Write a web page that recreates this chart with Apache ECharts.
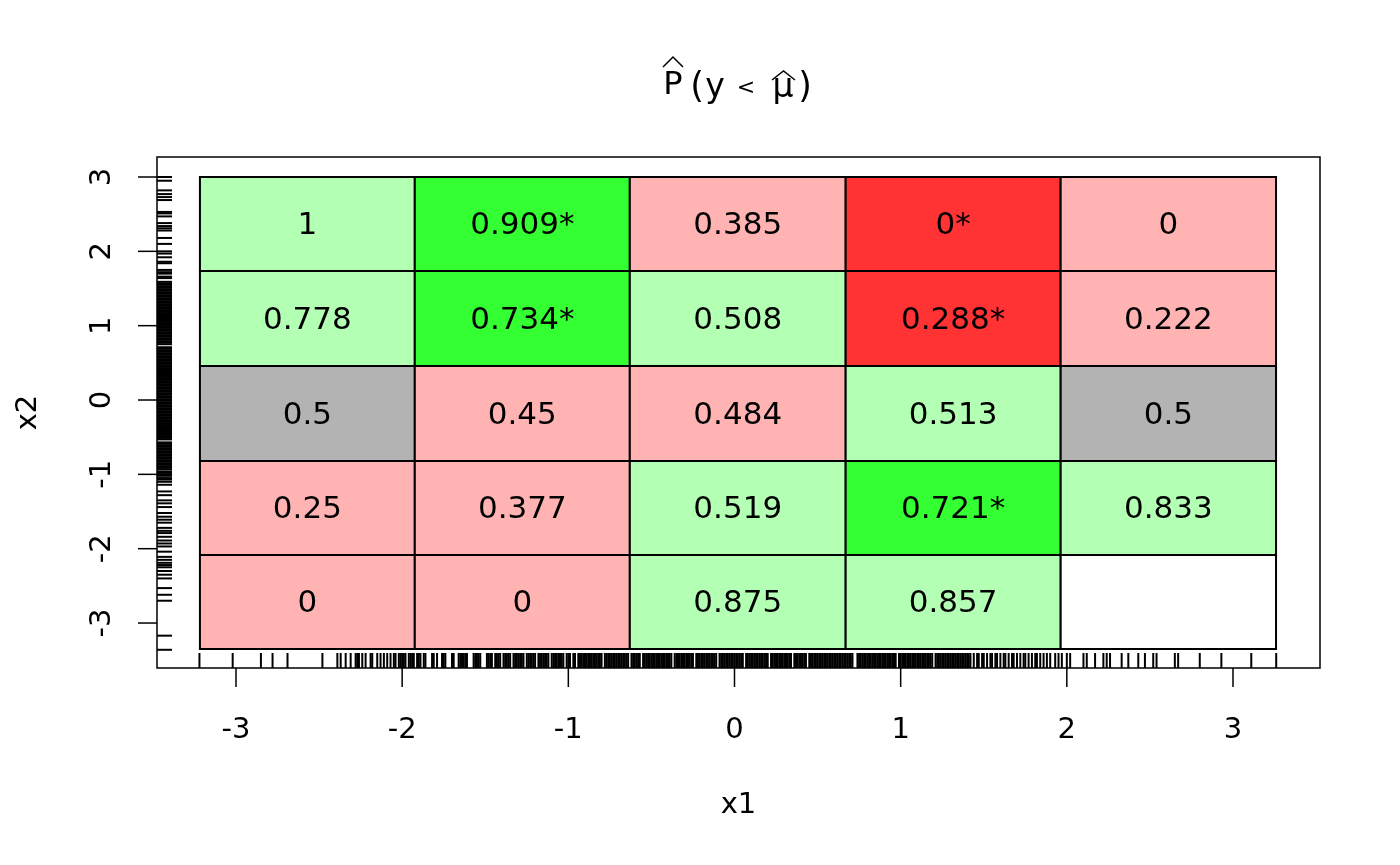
<!DOCTYPE html>
<html>
<head>
<meta charset="utf-8">
<script src="https://cdn.jsdelivr.net/npm/echarts@6/dist/echarts.min.js"></script>
<style>
html,body{margin:0;padding:0;background:#fff;}
#chart{width:1400px;height:865px;}
</style>
</head>
<body>
<div id="chart"></div>
<script>
// ---- data ----
const xBreaks = [-3.217, -1.924, -0.630, 0.669, 1.963, 3.259];
const yBreaks = [-3.35, -2.085, -0.821, 0.457, 1.735, 3.0];
// rows listed bottom to top, columns left to right
const cellValues = [
  ["0", "0", "0.875", "0.857", null],
  ["0.25", "0.377", "0.519", "0.721", "0.833"],
  ["0.5", "0.45", "0.484", "0.513", "0.5"],
  ["0.778", "0.734", "0.508", "0.288", "0.222"],
  ["1", "0.909", "0.385", "0", "0"]
];
const significant = [
  [0, 0, 0, 0, 0],
  [0, 0, 0, 1, 0],
  [0, 0, 0, 0, 0],
  [0, 1, 0, 1, 0],
  [0, 1, 0, 1, 0]
];
const xTicks = [-3, -2, -1, 0, 1, 2, 3];
const yTicks = [-3, -2, -1, 0, 1, 2, 3];
const xRug = [
-3.22,-3.02,-2.85,-2.78,-2.69,-2.48,-2.39,-2.37,-2.34,-2.31,-2.28,-2.27,-2.26,-2.24,-2.22,-2.19,-2.18,-2.15,-2.13,-2.11,-2.09,-2.07,-2.05,-2.04,-2.02,
-2.01,-2.00,-1.99,-1.98,-1.96,-1.95,-1.94,-1.93,-1.91,-1.90,-1.89,-1.87,-1.86,
-1.82,-1.81,-1.79,-1.76,-1.75,-1.74,-1.70,-1.69,-1.66,-1.65,-1.64,-1.63,-1.62,-1.61,-1.57,-1.56,-1.55,-1.54,-1.53,-1.49,-1.48,-1.47,-1.46,-1.44,-1.43,-1.42,-1.41,
-1.39,-1.38,-1.37,-1.36,-1.35,-1.33,-1.32,-1.31,-1.30,-1.29,-1.28,-1.27,-1.25,-1.24,-1.23,-1.22,-1.21,-1.20,-1.18,-1.17,-1.16,-1.15,-1.14,-1.13,-1.12,-1.10,-1.09,-1.08,-1.07,-1.06,-1.05,-1.04,-1.03,-1.01,-1.00,
-0.99,-0.97,-0.96,-0.94,-0.93,-0.92,-0.91,-0.90,-0.89,-0.88,-0.87,-0.86,-0.85,-0.84,-0.83,-0.82,-0.81,-0.80,-0.78,-0.77,-0.76,-0.75,-0.74,-0.73,-0.72,-0.71,-0.70,-0.69,-0.68,-0.67,-0.66,-0.65,-0.64,-0.62,-0.61,-0.60,-0.59,-0.58,-0.57,-0.55,-0.54,-0.53,-0.52,-0.51,-0.50,-0.49,-0.48,-0.47,-0.46,-0.45,-0.44,-0.43,-0.42,-0.41,-0.40,-0.39,-0.38,-0.36,-0.35,-0.34,-0.33,-0.32,-0.31,-0.30,-0.29,-0.28,-0.27,-0.26,-0.25,-0.23,-0.22,-0.21,-0.20,-0.19,-0.18,-0.17,-0.16,-0.15,-0.14,-0.13,-0.12,-0.11,-0.09,-0.08,-0.07,-0.06,-0.05,-0.04,-0.03,-0.02,-0.01,0.00,0.01,0.02,0.03,0.04,0.05,0.07,0.08,0.09,0.10,0.11,0.12,0.13,0.14,0.15,0.16,0.17,0.18,0.19,0.20,0.22,0.23,0.24,0.25,0.26,0.27,0.28,0.29,0.30,0.31,0.32,0.33,0.34,0.36,0.37,0.38,0.39,0.40,0.41,0.42,0.43,0.45,0.46,0.47,0.48,0.49,0.50,0.51,0.52,0.53,0.54,0.55,0.56,0.57,0.58,0.59,0.60,0.61,0.62,0.63,0.64,0.65,0.66,0.67,0.68,0.69,0.70,0.71,0.74,0.75,0.76,0.77,0.78,0.79,0.80,0.81,0.82,0.83,0.84,0.85,0.86,0.87,0.88,0.89,0.90,0.91,0.92,0.93,0.94,0.95,0.96,0.97,0.99,1.00,1.01,1.02,1.03,1.04,1.05,1.06,1.07,1.08,1.09,1.10,1.11,1.12,1.13,1.14,1.15,1.16,1.17,1.18,1.19,1.21,1.22,1.23,1.24,1.25,1.26,1.27,1.28,1.29,1.30,1.31,1.32,1.33,1.34,1.35,1.36,1.37,1.38,1.39,1.40,1.41,1.42,
1.44,1.46,1.47,1.49,1.50,1.52,1.54,1.55,1.57,1.58,1.60,1.62,1.63,1.65,1.67,1.68,1.70,1.72,1.74,1.75,1.77,1.79,1.81,1.82,1.84,1.86,1.88,1.90,1.93,1.95,1.97,2.00,2.02,
2.10,2.12,2.17,2.22,2.24,2.26,2.33,2.37,2.43,2.47,2.52,2.54,2.65,2.67,2.80,2.93,3.11,3.26
];
const yRug = [
3.00,2.95,2.82,2.77,2.73,2.69,2.53,2.51,2.47,2.38,2.34,2.31,2.28,2.18,2.10,2.00,1.97,1.92,1.86,1.84,1.75,1.72,1.70,1.66,1.64,1.59,
1.57,1.55,1.53,1.51,1.49,1.47,1.45,1.43,1.41,1.39,1.37,1.35,1.33,1.31,1.29,1.27,1.25,1.23,1.21,1.19,1.17,1.15,1.13,1.11,1.09,1.07,1.05,1.03,1.01,0.99,0.97,0.95,0.93,0.91,0.89,0.87,0.85,0.83,0.81,0.79,0.77,0.75,0.71,0.69,0.67,0.65,0.63,0.61,0.59,0.57,0.55,0.53,0.51,0.49,0.47,0.45,0.43,0.41,0.39,0.37,0.35,0.33,0.31,0.29,0.27,0.25,0.23,0.21,0.19,0.17,0.15,0.13,0.11,0.09,0.07,0.05,0.03,0.01,-0.01,-0.03,-0.05,-0.07,-0.09,-0.11,-0.13,-0.15,-0.17,-0.19,-0.21,-0.23,-0.25,-0.27,-0.29,-0.31,-0.33,-0.35,-0.37,-0.39,-0.41,-0.43,-0.45,-0.47,-0.49,-0.51,-0.53,-0.57,-0.59,-0.61,-0.63,-0.65,-0.67,-0.69,-0.71,-0.73,-0.75,-0.77,-0.79,-0.81,-0.83,-0.85,-0.87,-0.89,-0.91,-0.93,
-0.96,-0.98,-1.00,-1.02,-1.05,-1.07,-1.10,-1.14,-1.23,-1.28,-1.35,-1.39,-1.44,-1.52,-1.57,-1.61,-1.65,-1.72,-1.76,-1.79,-1.84,-1.89,-1.93,-1.97,-2.04,-2.11,-2.15,-2.19,-2.22,-2.25,-2.30,-2.35,-2.40,-2.53,-2.62,-2.70,-3.17,-3.36
];

// ---- styles ----
const X_MIN = -3.4754, X_MAX = 3.5236, Y_MIN = -3.605, Y_MAX = 3.269;
const FONT = '"DejaVu Sans", sans-serif';
function fillFor(v, s) {
  if (v === null) return '#FFFFFF';
  const n = parseFloat(v);
  if (n > 0.5) return s ? '#33FF33' : '#B3FFB3';
  if (n < 0.5) return s ? '#FF3333' : '#FFB3B3';
  return '#B3B3B3';
}

const cellData = [];
for (let r = 0; r < cellValues.length; r++) {
  for (let c = 0; c < cellValues[r].length; c++) {
    const v = cellValues[r][c];
    const label = v === null ? '' : v + (significant[r][c] ? '*' : '');
    cellData.push([xBreaks[c], xBreaks[c + 1], yBreaks[r], yBreaks[r + 1], label, fillFor(v, significant[r][c])]);
  }
}

const titleStyle = (t, x, y, size) => ({type: 'text', x: x, y: y, silent: true,
  style: {text: t, align: 'center', verticalAlign: 'middle', font: size + 'px ' + FONT, fill: '#000'}});
const hat = (x0, x1, yBase, yTop) => ({type: 'polyline', silent: true,
  shape: {points: [[x0, yBase], [(x0 + x1) / 2, yTop], [x1, yBase]]}, style: {stroke: '#000', lineWidth: 1.5, fill: null}});

const chart = echarts.init(document.getElementById('chart'), null, {renderer: 'canvas'});
chart.setOption({
  animation: false,
  backgroundColor: '#fff',
  grid: {left: 157, top: 157, width: 1163, height: 511, show: true, borderColor: '#000', borderWidth: 1.5, backgroundColor: 'transparent'},
  xAxis: {
    type: 'value', min: X_MIN, max: X_MAX,
    axisLine: {show: false},
    splitLine: {show: false},
    axisTick: {show: false},
    axisLabel: {customValues: xTicks, margin: 48, fontFamily: FONT, fontSize: 29, color: '#000', formatter: v => String(v)},
    name: 'x1', nameLocation: 'middle', nameGap: 123,
    nameTextStyle: {fontFamily: FONT, fontSize: 29, color: '#000'}
  },
  yAxis: {
    type: 'value', min: Y_MIN, max: Y_MAX,
    axisLine: {show: false},
    splitLine: {show: false},
    axisTick: {show: false},
    axisLabel: {customValues: yTicks, margin: 40, rotate: 90, fontFamily: FONT, fontSize: 29, color: '#000', formatter: v => String(v)},
    name: 'x2', nameLocation: 'middle', nameGap: 114,
    nameTextStyle: {fontFamily: FONT, fontSize: 29, color: '#000'}
  },
  graphic: [
    titleStyle('P', 673, 86, 32),
    hat(663, 683, 67, 57),
    titleStyle('(', 697, 88, 35),
    titleStyle('y', 715, 88, 33),
    titleStyle('<', 746, 88, 22),
    titleStyle('\u03BC', 783, 88, 33),
    hat(772, 795, 80, 71),
    titleStyle(')', 805, 88, 35)
  ],
  series: [
    {
      type: 'custom', coordinateSystem: 'cartesian2d', data: cellData, z: 2,
      encode: {x: [0, 1], y: [2, 3]},
      renderItem: function (params, api) {
        const p0 = api.coord([api.value(0), api.value(3)]);
        const p1 = api.coord([api.value(1), api.value(2)]);
        const d = cellData[params.dataIndex];
        return {
          type: 'group',
          children: [
            {type: 'rect', shape: {x: p0[0], y: p0[1], width: p1[0] - p0[0], height: p1[1] - p0[1]},
             style: {fill: d[5], stroke: '#000', lineWidth: 2}},
            {type: 'text', style: {text: d[4], x: (p0[0] + p1[0]) / 2, y: (p0[1] + p1[1]) / 2 + 2,
             align: 'center', verticalAlign: 'middle', font: '31px ' + FONT, fill: '#000'}}
          ]
        };
      }
    },
    {
      type: 'custom', coordinateSystem: 'cartesian2d', z: 3,
      data: xRug.map(v => [v, Y_MIN]),
      renderItem: function (params, api) {
        const p = api.coord([api.value(0), Y_MIN]);
        return {type: 'line', shape: {x1: p[0], y1: p[1], x2: p[0], y2: p[1] - 15}, style: {stroke: '#000', lineWidth: 2}};
      }
    },
    {
      type: 'custom', coordinateSystem: 'cartesian2d', z: 3,
      data: yRug.map(v => [X_MIN, v]),
      renderItem: function (params, api) {
        const p = api.coord([X_MIN, api.value(1)]);
        return {type: 'line', shape: {x1: p[0], y1: p[1], x2: p[0] + 15, y2: p[1]}, style: {stroke: '#000', lineWidth: 2}};
      }
    },
    {
      type: 'custom', coordinateSystem: 'cartesian2d', z: 3,
      data: xTicks.map(v => [v, Y_MIN]),
      renderItem: function (params, api) {
        const p = api.coord([api.value(0), Y_MIN]);
        return {type: 'line', shape: {x1: p[0], y1: p[1], x2: p[0], y2: p[1] + 19}, style: {stroke: '#000', lineWidth: 1.5}};
      }
    },
    {
      type: 'custom', coordinateSystem: 'cartesian2d', z: 3,
      data: yTicks.map(v => [X_MIN, v]),
      renderItem: function (params, api) {
        const p = api.coord([X_MIN, api.value(1)]);
        return {type: 'line', shape: {x1: p[0], y1: p[1], x2: p[0] - 19, y2: p[1]}, style: {stroke: '#000', lineWidth: 1.5}};
      }
    }
  ]
});
</script>
</body>
</html>
